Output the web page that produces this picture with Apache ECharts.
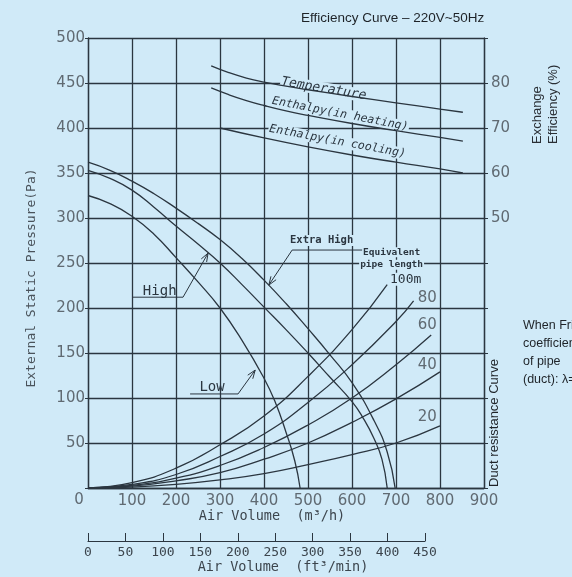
<!DOCTYPE html>
<html>
<head>
<meta charset="utf-8">
<title>Efficiency Curve</title>
<script src="https://cdn.jsdelivr.net/npm/echarts@6/dist/echarts.min.js"></script>
<style>
  html, body { margin: 0; padding: 0; background: #d0eaf8; }
  #chart { width: 572px; height: 577px; }
</style>
</head>
<body>
<div id="chart"></div>
<script>
// fan curves: air volume (m3/h) -> external static pressure (Pa)
const extraHighQ = [0, 50, 100, 150, 200, 250, 300, 350, 400, 450, 500, 550, 600, 650, 680, 698];
const extraHighP = [362, 353, 341, 327, 311, 294, 276, 255, 231, 205, 177, 148, 117, 75, 40, 0];
const highQ = [0, 50, 100, 150, 200, 250, 300, 350, 400, 450, 500, 550, 600, 625, 650, 668, 680];
const highP = [353, 344, 331, 312, 291, 271, 250, 226, 201, 176, 150, 123, 96, 78, 55, 32, 0];
const lowQ = [0, 50, 100, 150, 200, 250, 300, 350, 400, 425, 450, 470, 482];
const lowP = [325, 316, 302, 282, 256, 229, 200, 164, 122, 96, 62, 30, 0];

// duct resistance curves, by equivalent pipe length
const ductNames = ['100m', '80', '60', '40', '20'];
const duct100Q = [0, 100, 200, 300, 400, 500, 600, 680];
const duct100P = [0, 6, 22, 48, 80, 124, 176, 226];
const duct80Q = [0, 100, 200, 300, 400, 500, 600, 700, 740];
const duct80P = [0, 4, 15, 35, 60, 95, 137, 185, 208];
const duct60Q = [0, 100, 200, 300, 400, 500, 600, 700, 780];
const duct60P = [0, 3, 11, 25, 45, 70, 100, 137, 170];
const duct40Q = [0, 100, 200, 300, 400, 500, 600, 700, 800];
const duct40P = [0, 2, 8, 17, 32, 50, 73, 99, 129];
const duct20Q = [0, 100, 200, 300, 400, 500, 600, 700, 800];
const duct20P = [0, 1, 4, 9, 16, 26, 37, 50, 69];

// exchange efficiency (%)
const tempQ = [280, 320, 360, 400, 450, 500, 600, 700, 800, 852];
const tempEff = [83.8, 82.3, 81.1, 80.2, 79.3, 78.5, 77.0, 75.6, 74.2, 73.5];
const heatQ = [280, 320, 360, 400, 450, 500, 600, 700, 800, 852];
const heatEff = [78.9, 77.4, 76.1, 75.0, 73.8, 72.8, 71.0, 69.4, 67.9, 67.1];
const coolQ = [300, 400, 500, 600, 700, 800, 852];
const coolEff = [70.0, 67.8, 65.8, 64.0, 62.4, 60.9, 60.0];

// tick labels
const volumeTicks = [0, 100, 200, 300, 400, 500, 600, 700, 800, 900];
const cfmTicks = [0, 50, 100, 150, 200, 250, 300, 350, 400, 450];
const pressureTicks = [0, 50, 100, 150, 200, 250, 300, 350, 400, 450, 500];
const efficiencyTicks = [50, 60, 70, 80];

const bg = '#d0eaf8';
const ink = '#2b3640';
const grey = '#606a72';
const mono = "'DejaVu Sans Mono'";
const sans = "'Liberation Sans'";

const chart = echarts.init(document.getElementById('chart'));

function pairs (xs, ys) {
  return xs.map((x, i) => [x, ys[i]]);
}

function curve (name, xs, ys, yAxisIndex) {
  return {
    name: name,
    type: 'line',
    xAxisIndex: 0,
    yAxisIndex: yAxisIndex || 0,
    data: pairs(xs, ys),
    smooth: true,
    showSymbol: false,
    silent: true,
    lineStyle: { color: ink, width: 1.3 }
  };
}

const option = {
  backgroundColor: bg,
  animation: false,
  grid: [
    { left: 88, right: 88, top: 38, bottom: 89 },
    { left: 88, width: 337, top: 540, height: 1 }
  ],
  xAxis: [{
    type: 'value',
    gridIndex: 0,
    min: volumeTicks[0],
    max: volumeTicks[volumeTicks.length - 1],
    interval: 100,
    axisLine: { lineStyle: { color: ink, width: 1.3 } },
    axisTick: { show: false },
    splitLine: { lineStyle: { color: ink, width: 1.3 } },
    axisLabel: {
      margin: 6,
      color: grey,
      fontSize: 15,
      fontFamily: 'DejaVu Sans',
      formatter: v => (v === 0 ? '' : String(v))
    }
  }, {
    type: 'value',
    gridIndex: 1,
    min: cfmTicks[0],
    max: cfmTicks[cfmTicks.length - 1],
    interval: 50,
    axisLine: { lineStyle: { color: ink, width: 1.2 } },
    axisTick: { inside: true, length: 8, lineStyle: { color: ink } },
    splitLine: { show: false },
    axisLabel: { margin: 5, color: '#3c454d', fontSize: 13, fontFamily: 'DejaVu Sans Mono' }
  }],
  yAxis: [{
    type: 'value',
    gridIndex: 0,
    min: pressureTicks[0],
    max: pressureTicks[pressureTicks.length - 1],
    interval: 50,
    axisLine: { show: true, lineStyle: { color: ink, width: 1.3 } },
    axisTick: { show: true, length: 3, lineStyle: { color: ink } },
    splitLine: { lineStyle: { color: ink, width: 1.3 } },
    axisLabel: {
      margin: 3,
      color: grey,
      fontSize: 15,
      fontFamily: 'DejaVu Sans',
      formatter: v => (v === 0 ? '' : String(v))
    }
  }, {
    type: 'value',
    gridIndex: 0,
    position: 'right',
    min: -10,
    max: 90,
    interval: 10,
    axisLine: { show: true, lineStyle: { color: ink, width: 1.3 } },
    axisTick: { show: true, length: 4, lineStyle: { color: ink } },
    splitLine: { show: false },
    axisLabel: {
      margin: 7,
      color: grey,
      fontSize: 15,
      fontFamily: 'DejaVu Sans',
      formatter: v => (efficiencyTicks.indexOf(v) >= 0 ? String(v) : '')
    }
  }, {
    type: 'value', gridIndex: 1, show: false, min: 0, max: 1
  }],
  series: [
    curve('Extra High', extraHighQ, extraHighP),
    curve('High', highQ, highP),
    curve('Low', lowQ, lowP),
    curve(ductNames[0], duct100Q, duct100P),
    curve(ductNames[1], duct80Q, duct80P),
    curve(ductNames[2], duct60Q, duct60P),
    curve(ductNames[3], duct40Q, duct40P),
    curve(ductNames[4], duct20Q, duct20P),
    curve('Temperature', tempQ, tempEff, 1),
    curve('Enthalpy(in heating)', heatQ, heatEff, 1),
    curve('Enthalpy(in cooling)', coolQ, coolEff, 1)
  ]
};

chart.setOption(option);

// annotations, placed in chart units and converted to pixels
const px = (q, p) => chart.convertToPixel({ xAxisIndex: 0, yAxisIndex: 0 }, [q, p]);
const pe = (q, e) => chart.convertToPixel({ xAxisIndex: 0, yAxisIndex: 1 }, [q, e]);

function text (str, pt, font, extra) {
  const el = {
    type: 'text',
    z: 1,
    x: pt[0],
    y: pt[1],
    style: {
      text: str,
      font: font,
      fill: ink,
      align: 'center',
      verticalAlign: 'middle',
      backgroundColor: bg,
      padding: [0, 1]
    }
  };
  if (extra) {
    if (extra.rotation !== undefined) el.rotation = extra.rotation;
    Object.assign(el.style, extra.style || {});
  }
  return el;
}

function line (points) {
  return { type: 'polyline', z: 2, shape: { points: points }, style: { stroke: ink, lineWidth: 1, fill: null } };
}

function arrow (from, to) {
  const dx = to[0] - from[0];
  const dy = to[1] - from[1];
  const len = Math.hypot(dx, dy);
  const ux = dx / len;
  const uy = dy / len;
  const a = 0.35;
  const s = 9;
  const wing = sg => [
    to[0] - s * (ux * Math.cos(a) - sg * uy * Math.sin(a)),
    to[1] - s * (uy * Math.cos(a) + sg * ux * Math.sin(a))
  ];
  return line([wing(1), to, wing(-1)]);
}

const deg = Math.PI / 180;
const graphics = [];
const noBox = { backgroundColor: null, padding: 0 };

// curve names on the efficiency curves
graphics.push(text('Temperature', pe(536, 78.7), 'italic 13px ' + mono, { rotation: -9.5 * deg }));
graphics.push(text('Enthalpy(in heating)', pe(573, 73.1), 'italic 11.5px ' + mono, { rotation: -11 * deg }));
graphics.push(text('Enthalpy(in cooling)', pe(567, 67.0), 'italic 11.5px ' + mono, { rotation: -10.5 * deg }));

// High
const hElbow = px(216, 212);
const hTip = px(273, 261);
graphics.push(line([px(102, 212), hElbow, hTip]));
graphics.push(arrow(hElbow, hTip));
graphics.push(text('High', px(163, 219), '14px ' + mono, { style: noBox }));

// Low
const lElbow = px(341, 104.5);
const lTip = px(380, 131);
graphics.push(line([px(232, 104.5), lElbow, lTip]));
graphics.push(arrow(lElbow, lTip));
graphics.push(text('Low', px(282, 112), '14px ' + mono, { style: noBox }));

// Extra High
const eElbow = px(464, 264.4);
const eTip = px(411, 225.5);
graphics.push(line([px(623, 264.4), eElbow, eTip]));
graphics.push(arrow(eElbow, eTip));
graphics.push(text('Extra High', px(531, 275), 'bold 10.5px ' + mono));

// duct lengths
graphics.push(text('Equivalent', px(690, 262), 'bold 9.5px ' + mono));
graphics.push(text('pipe length', px(690, 248), 'bold 9.5px ' + mono));
graphics.push(text(ductNames[0], px(722, 232), '13px ' + mono));
const lengthLabelAt = [[795, 211], [795, 181], [795, 137], [795, 79]];
ductNames.slice(1).forEach((n, i) => {
  const at = lengthLabelAt[i];
  graphics.push(text(n, px(at[0], at[1]), '15px DejaVu Sans', { style: { align: 'right', fill: grey } }));
});

// titles and axis names outside the plot
graphics.push(text('Efficiency Curve \u2013 220V~50Hz', [300, 18], '13.5px ' + sans, { style: { align: 'left', backgroundColor: null, fill: '#1e2328' } }));
graphics.push(text('Exchange', [537, 145], '13px ' + sans, { rotation: 90 * deg, style: { align: 'left', backgroundColor: null, fill: '#2a2f35' } }));
graphics.push(text('Efficiency (%)', [553, 145], '13px ' + sans, { rotation: 90 * deg, style: { align: 'left', backgroundColor: null, fill: '#2a2f35' } }));
graphics.push(text('Duct resistance Curve', [494, 488], '13px ' + sans, { rotation: 90 * deg, style: { align: 'left', backgroundColor: null, fill: '#1e2328' } }));
graphics.push(text('External Static Pressure(Pa)', [32, 278], '13px ' + mono, { rotation: 90 * deg, style: { backgroundColor: null, fill: '#4a535b' } }));
graphics.push(text('0', [79, 500], '15px DejaVu Sans', { style: { backgroundColor: null, fill: grey } }));
graphics.push(text('Air Volume  (m\u00b3/h)', [272, 516], '13.5px ' + mono, { style: { backgroundColor: null, fill: '#3c454d' } }));
graphics.push(text('Air Volume  (ft\u00b3/min)', [283, 567], '13.5px ' + mono, { style: { backgroundColor: null, fill: '#3c454d' } }));

const note = ['When Friction', 'coefficient', 'of pipe', '(duct): \u03bb=0.02'];
note.forEach((s, i) => {
  graphics.push(text(s, [522, 326 + i * 18], '12.5px ' + sans, { style: { align: 'left', backgroundColor: null, fill: '#1e2328' } }));
});

chart.setOption({ graphic: { elements: graphics } });
</script>
</body>
</html>
